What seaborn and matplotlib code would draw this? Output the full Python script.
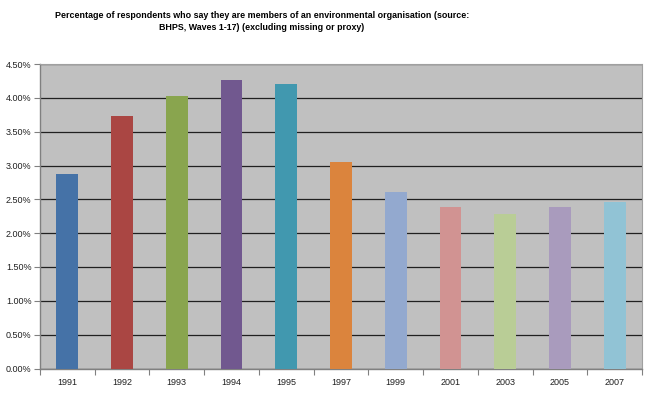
import matplotlib
matplotlib.use("Agg")
import matplotlib.pyplot as plt
import matplotlib.ticker as mticker
import seaborn as sns
import pandas as pd

years = ["1991", "1992", "1993", "1994", "1995", "1997", "1999", "2001", "2003", "2005", "2007"]
values = [2.88, 3.73, 4.02, 4.27, 4.21, 3.05, 2.61, 2.38, 2.29, 2.39, 2.46]
colors = ["#4572A7", "#AA4643", "#89A54E", "#71588F", "#4198AF", "#DB843D",
          "#93A9CF", "#D19392", "#B9CD96", "#A99BBD", "#91C3D5"]
title = ("Percentage of respondents who say they are members of an environmental organisation (source:\n"
         "BHPS, Waves 1-17) (excluding missing or proxy)")

df = pd.DataFrame({"year": years, "value": values})

sns.set_theme(style="white")
plt.rcParams["font.family"] = ["Liberation Sans", "DejaVu Sans"]

fig = plt.figure(figsize=(6.5, 3.97), dpi=100)
ax = fig.add_axes([40/650, 1-368.5/397, (642-40)/650, (368.5-64)/397])
ax.set_facecolor("#C0C0C0")

sns.barplot(data=df, x="year", y="value", hue="year", palette=colors,
            width=0.4, legend=False, ax=ax, saturation=1, zorder=3,
            linewidth=0)

ax.set_ylim(0, 4.5)
ax.set_xlim(-0.5, len(years) - 0.5)
ax.yaxis.set_major_locator(mticker.MultipleLocator(0.5))
ax.yaxis.set_major_formatter(mticker.FuncFormatter(lambda v, p: f"{v:.2f}%"))
ax.grid(axis="y", color="#202020", linewidth=0.9, zorder=0)
ax.set_axisbelow(True)
ax.set_xlabel("")
ax.set_ylabel("")

for s in ["top", "right"]:
    ax.spines[s].set_color("#A0A0A0")
    ax.spines[s].set_linewidth(0.8)
    ax.spines[s].set_linestyle((0, (1, 1)))
for s in ["left", "bottom"]:
    ax.spines[s].set_color("#808080")
    ax.spines[s].set_linewidth(1.0)

ax.tick_params(axis="y", which="major", length=4, width=0.8, color="#808080",
               direction="out", labelsize=6.5, labelcolor="#202020", pad=2, left=True)
ax.tick_params(axis="x", which="major", length=0, labelsize=6.5, labelcolor="#202020", pad=7)
ax.set_xticks(range(len(years)))
ax.set_xticklabels(years)
ax.xaxis.set_minor_locator(mticker.FixedLocator([i + 0.5 for i in range(-1, len(years))]))
ax.tick_params(axis="x", which="minor", length=4, width=0.8, color="#808080",
               direction="out", bottom=True)

fig.text(262/650, 1-11/397, title, ha="center", va="top", fontsize=6.4,
         fontweight="bold", color="#000000", linespacing=1.45)

fig.savefig("out.png", dpi=100, facecolor="white")
